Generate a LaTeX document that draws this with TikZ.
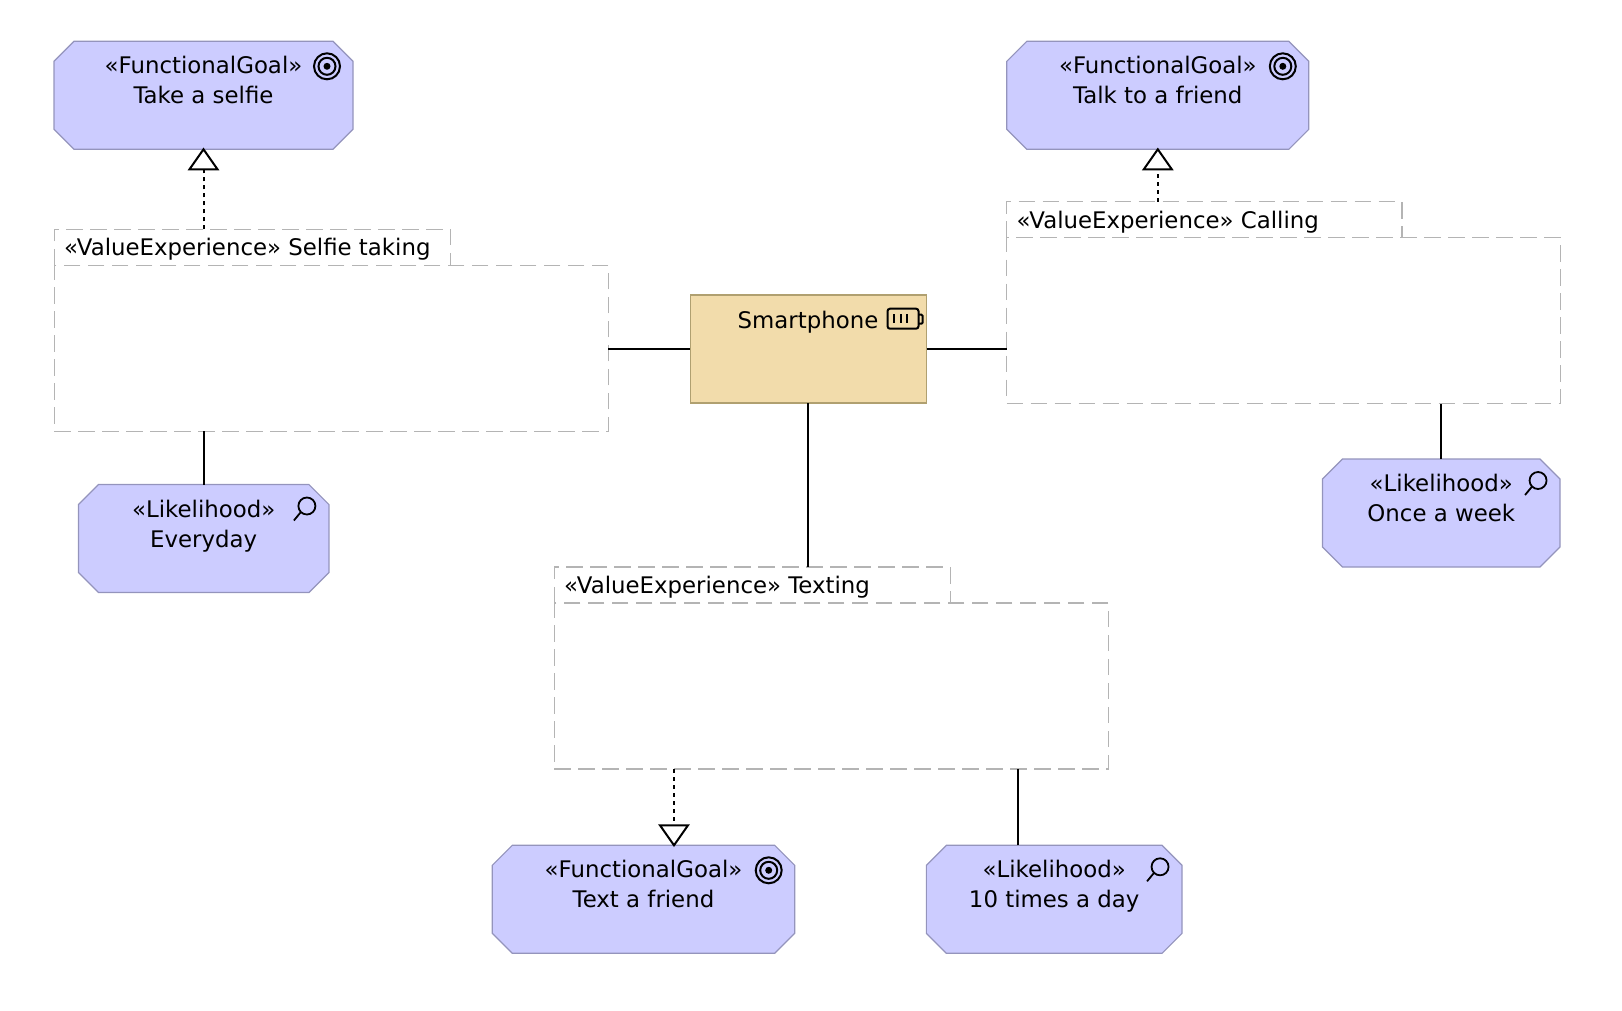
\documentclass[tikz,border=0pt]{standalone}
\usepackage{fontspec}
\setmainfont{DejaVu Sans}
\usetikzlibrary{arrows.meta,calc}
\definecolor{goalfill}{HTML}{CCCCFF}
\definecolor{goalline}{HTML}{9494BC}
\definecolor{devfill}{HTML}{F2DCAB}
\definecolor{devline}{HTML}{B0A070}
\definecolor{dashgrey}{HTML}{B4B4B4}
\newcommand{\octashape}[1]{%
  \draw[octaline] ($(#1.north west)+(20,0)$) -- ($(#1.north east)+(-20,0)$) -- ($(#1.north east)+(0,-20)$) -- ($(#1.south east)+(0,20)$) -- ($(#1.south east)+(-20,0)$) -- ($(#1.south west)+(20,0)$) -- ($(#1.south west)+(0,20)$) -- ($(#1.north west)+(0,-20)$) -- cycle;}
\newcommand{\tabshape}[1]{%
  \draw[dashline] (#1.south west) -- (#1.north west) -- (#1.north east) -- (#1.south east);}
\tikzset{
  x=1pt,y=1pt,
  octaline/.style={draw=goalline,fill=goalfill,line width=1.2pt,line join=miter},
  octa/.style={rectangle,inner sep=0pt,outer sep=0pt,minimum height=108pt},
  octatext/.style={anchor=north,align=center,inner sep=0pt,font=\fontsize{22.85}{30}\selectfont,text=black,yshift=-15pt},
  devbox/.style={rectangle,draw=devline,fill=devfill,line width=1.2pt,inner sep=0pt,outer sep=0pt,minimum width=236.4pt,minimum height=108pt},
  dashline/.style={draw=dashgrey,line width=1.2pt,dash pattern=on 16.5pt off 7.5pt},
  tabbox/.style={rectangle,inner sep=0pt,outer sep=0pt,minimum height=36pt,anchor=north west},
  bodybox/.style={rectangle,dashline,inner sep=0pt,outer sep=0pt,minimum width=554pt,minimum height=166pt,anchor=north west},
  tabtext/.style={anchor=base west,inner sep=0pt,font=\fontsize{22.85}{30}\selectfont,text=black},
  link/.style={draw=black,line width=2pt},
  realize/.style={draw=black,line width=2pt,dash pattern=on 4pt off 4pt},
  hollowtip/.style={draw=black,fill=white,line width=2pt,line join=miter},
  targeticon/.pic={
    \draw[line width=2pt] (0,0) circle (13pt);
    \draw[line width=2pt] (0,0) circle (8.5pt);
    \fill (0,0) circle (3.5pt);
  },
  lensicon/.pic={
    \draw[line width=1.8pt] (0,0) circle (8.5pt);
    \draw[line width=1.8pt] (-6,-6) -- (-13,-14.5);
  },
  batteryicon/.pic={
    \draw[line width=2pt,rounded corners=2.5pt] (0,0) rectangle (31,-20);
    \draw[line width=2pt,rounded corners=1pt] (31,-6) -- (35,-6) -- (35,-15) -- (31,-15);
    \draw[line width=2pt] (6.8,-5.6) -- (6.8,-14.6) (13.3,-5.6) -- (13.3,-14.6) (19.6,-5.6) -- (19.6,-14.6);
  },
}
\begin{document}
\begin{tikzpicture}
\useasboundingbox (0,0) rectangle (1622,-1010);
% goals and likelihoods
\node[octa,minimum width=299pt] (goalA) at (203.5,-95.3) {};
\octashape{goalA}
\node[octatext] (goalAt) at (goalA.north) {«FunctionalGoal»\\Take a selfie};
\path (goalA.north east) pic at +(-26,-25) {targeticon};
\node[octa,minimum width=302pt] (goalB) at (1157.8,-95.3) {};
\octashape{goalB}
\node[octatext] (goalBt) at (goalB.north) {«FunctionalGoal»\\Talk to a friend};
\path (goalB.north east) pic at +(-26,-25) {targeticon};
\node[octa,minimum width=302.4pt] (goalC) at (643.5,-899.3) {};
\octashape{goalC}
\node[octatext] (goalCt) at (goalC.north) {«FunctionalGoal»\\Text a friend};
\path (goalC.north east) pic at +(-26,-25) {targeticon};
\node[octa,minimum width=250.4pt] (likeA) at (203.7,-538.5) {};
\octashape{likeA}
\node[octatext] (likeAt) at (likeA.north) {«Likelihood»\\Everyday};
\path (likeA.north east) pic at +(-22,-21.5) {lensicon};
\node[octa,minimum width=237.5pt] (likeB) at (1441.3,-513) {};
\octashape{likeB}
\node[octatext] (likeBt) at (likeB.north) {«Likelihood»\\Once a week};
\path (likeB.north east) pic at +(-22,-21.5) {lensicon};
\node[octa,minimum width=255.7pt] (likeC) at (1054.2,-899.3) {};
\octashape{likeC}
\node[octatext] (likeCt) at (likeC.north) {«Likelihood»\\10 times a day};
\path (likeC.north east) pic at +(-22,-21.5) {lensicon};
% device
\node[devbox] (phone) at (808.3,-349) {};
\node[anchor=base,inner sep=0pt,font=\fontsize{22.85}{30}\selectfont] (phonet) at (808,-328) {Smartphone};
\path (phone.north east) pic at +(-39,-13.7) {batteryicon};
% value experiences
\node[tabbox,minimum width=396.5pt] (tabA) at (54.3,-229.3) {};
\tabshape{tabA}
\node[tabtext] (tabAt) at (64,-255.8) {«ValueExperience» Selfie taking};
\node[bodybox] (boxA) at (tabA.south west) {};
\node[tabbox,minimum width=395.5pt] (tabB) at (1006.5,-201.5) {};
\tabshape{tabB}
\node[tabtext] (tabBt) at (1016.5,-228) {«ValueExperience» Calling};
\node[bodybox] (boxB) at (tabB.south west) {};
\node[tabbox,minimum width=396pt] (tabC) at (554.3,-567) {};
\tabshape{tabC}
\node[tabtext] (tabCt) at (564,-593.3) {«ValueExperience» Texting};
\node[bodybox] (boxC) at (tabC.south west) {};
% connectors
\draw[link] (boxA.east |- phone.west) -- (phone.west);
\draw[link] (phone.east) -- (boxB.west |- phone.east);
\draw[link] (phone.south) -- (phone.south |- tabC.north);
\draw[link] (likeA.north) -- (likeA.north |- boxA.south);
\draw[link] (likeB.north) -- (likeB.north |- boxB.south);
\coordinate (likeCtop) at (1017.5,-845.3);
\draw[link] (likeCtop) -- (likeCtop |- boxC.south);
% realization arrows
\coordinate (baseA) at ($(goalA.south)+(0,-20)$);
\draw[realize] (goalA.south |- tabA.north) -- (baseA);
\draw[hollowtip] (goalA.south) -- ++(-14,-20) -- ++(28,0) -- cycle;
\coordinate (baseB) at ($(goalB.south)+(0,-20)$);
\draw[realize] (goalB.south |- tabB.north) -- (baseB);
\draw[hollowtip] (goalB.south) -- ++(-14,-20) -- ++(28,0) -- cycle;
\coordinate (tipC) at (674,-845.3);
\coordinate (baseC) at ($(tipC)+(0,20)$);
\draw[realize] (tipC |- boxC.south) -- (baseC);
\draw[hollowtip] (tipC) -- ++(-14,20) -- ++(28,0) -- cycle;
\end{tikzpicture}
\end{document}
